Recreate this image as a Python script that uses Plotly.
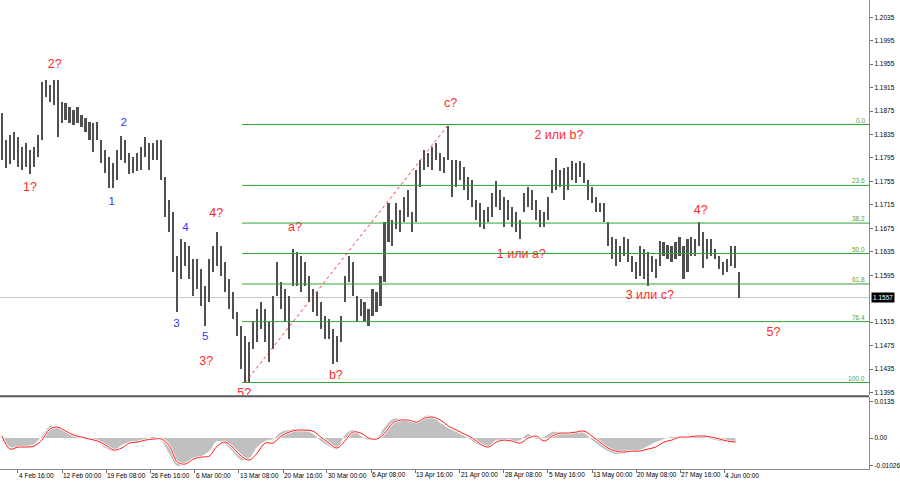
import numpy as np
import plotly.graph_objects as go

# ---------------- data ----------------
HIGHS = [1.1872, 1.1826, 1.1835, 1.1840, 1.1831, 1.1814, 1.1821, 1.1809, 1.1814, 1.1835,
         1.1925, 1.1928, 1.1920, 1.1928, 1.1928, 1.1891, 1.1889, 1.1882, 1.1877, 1.1882,
         1.1869, 1.1864, 1.1857, 1.1855, 1.1857, 1.1826, 1.1809, 1.1797, 1.1787, 1.1809,
         1.1833, 1.1826, 1.1804, 1.1797, 1.1804, 1.1814, 1.1830, 1.1821, 1.1821, 1.1826,
         1.1826, 1.1763, 1.1724, 1.1702, 1.1627, 1.1656, 1.1651, 1.1644, 1.1622, 1.1622,
         1.1605, 1.1576, 1.1622, 1.1644, 1.1668, 1.1644, 1.1617, 1.1588, 1.1566, 1.1532,
         1.1508, 1.1491, 1.1481, 1.1515, 1.1537, 1.1549, 1.1537, 1.1515, 1.1559, 1.1617,
         1.1583, 1.1571, 1.1559, 1.1639, 1.1634, 1.1627, 1.1617, 1.1593, 1.1571, 1.1566,
         1.1549, 1.1525, 1.1520, 1.1503, 1.1491, 1.1525, 1.1593, 1.1627, 1.1617, 1.1559,
         1.1554, 1.1549, 1.1537, 1.1571, 1.1566, 1.1593, 1.1685, 1.1719, 1.1690, 1.1719,
         1.1707, 1.1729, 1.1741, 1.1702, 1.1775, 1.1792, 1.1809, 1.1804, 1.1814, 1.1821,
         1.1804, 1.1797, 1.1850, 1.1792, 1.1792, 1.1789, 1.1780, 1.1763, 1.1758, 1.1724,
         1.1719, 1.1707, 1.1712, 1.1736, 1.1755, 1.1741, 1.1729, 1.1724, 1.1712, 1.1702,
         1.1690, 1.1736, 1.1746, 1.1741, 1.1724, 1.1707, 1.1702, 1.1729, 1.1775, 1.1795,
         1.1775, 1.1778, 1.1780, 1.1789, 1.1787, 1.1789, 1.1787, 1.1758, 1.1746, 1.1729,
         1.1719, 1.1719, 1.1685, 1.1661, 1.1656, 1.1644, 1.1661, 1.1656, 1.1627, 1.1617,
         1.1644, 1.1639, 1.1634, 1.1627, 1.1622, 1.1653, 1.1651, 1.1647, 1.1644, 1.1651,
         1.1661, 1.1644, 1.1656, 1.1661, 1.1656, 1.1685, 1.1668, 1.1656, 1.1656, 1.1639,
         1.1627, 1.1617, 1.1622, 1.1644, 1.1644, 1.1600]

LOWS = [1.1792, 1.1778, 1.1784, 1.1792, 1.1780, 1.1775, 1.1780, 1.1767, 1.1780, 1.1797,
        1.1826, 1.1899, 1.1891, 1.1886, 1.1831, 1.1855, 1.1860, 1.1855, 1.1852, 1.1855,
        1.1847, 1.1840, 1.1826, 1.1806, 1.1826, 1.1787, 1.1770, 1.1744, 1.1744, 1.1758,
        1.1792, 1.1787, 1.1767, 1.1770, 1.1772, 1.1775, 1.1797, 1.1775, 1.1792, 1.1792,
        1.1758, 1.1695, 1.1668, 1.1600, 1.1532, 1.1588, 1.1610, 1.1588, 1.1559, 1.1571,
        1.1542, 1.1508, 1.1549, 1.1600, 1.1610, 1.1593, 1.1566, 1.1537, 1.1520, 1.1491,
        1.1435, 1.1412, 1.1413, 1.1469, 1.1481, 1.1503, 1.1481, 1.1447, 1.1469, 1.1559,
        1.1537, 1.1515, 1.1486, 1.1576, 1.1576, 1.1566, 1.1576, 1.1549, 1.1532, 1.1525,
        1.1503, 1.1486, 1.1486, 1.1443, 1.1447, 1.1481, 1.1549, 1.1583, 1.1559, 1.1515,
        1.1525, 1.1515, 1.1508, 1.1525, 1.1532, 1.1542, 1.1583, 1.1651, 1.1644, 1.1673,
        1.1668, 1.1685, 1.1695, 1.1668, 1.1685, 1.1746, 1.1775, 1.1780, 1.1775, 1.1792,
        1.1772, 1.1770, 1.1792, 1.1729, 1.1746, 1.1758, 1.1741, 1.1724, 1.1712, 1.1690,
        1.1678, 1.1673, 1.1685, 1.1695, 1.1712, 1.1707, 1.1678, 1.1690, 1.1678, 1.1668,
        1.1656, 1.1702, 1.1712, 1.1707, 1.1690, 1.1678, 1.1678, 1.1690, 1.1736, 1.1741,
        1.1746, 1.1724, 1.1741, 1.1758, 1.1753, 1.1763, 1.1753, 1.1724, 1.1719, 1.1702,
        1.1702, 1.1685, 1.1644, 1.1622, 1.1610, 1.1617, 1.1627, 1.1617, 1.1600, 1.1588,
        1.1593, 1.1588, 1.1576, 1.1600, 1.1591, 1.1610, 1.1627, 1.1622, 1.1617, 1.1622,
        1.1627, 1.1588, 1.1600, 1.1627, 1.1627, 1.1644, 1.1608, 1.1622, 1.1627, 1.1622,
        1.1605, 1.1596, 1.1600, 1.1610, 1.1608, 1.1557]

CURRENT_PRICE = 1.1557

# MACD-style oscillator, one value every second bar
OSC_MAIN = [-0.00037, -0.00333, -0.00370, -0.00333, -0.00222, 0.00074, 0.00444, 0.00407, 0.00222, 0.00074,
            0.00037, -0.00037, -0.00148, -0.00370, -0.00481, -0.00259, -0.00148, -0.00111, -0.00037, 0.00037,
            -0.00111, -0.00593, -0.01037, -0.00926, -0.00741, -0.00667, -0.00481, -0.00111, -0.00222, -0.00519,
            -0.00815, -0.00741, -0.00333, -0.00111, -0.00037, 0.00222, 0.00296, 0.00333, 0.00296, 0.00148,
            -0.00111, -0.00296, -0.00407, 0.00111, 0.00296, 0.00074, -0.00074, 0.0, 0.00407, 0.00704,
            0.00704, 0.00630, 0.00630, 0.00815, 0.00815, 0.00556, 0.00370, 0.00222, 0.00074, -0.00111,
            -0.00296, -0.00333, -0.00074, -0.00111, -0.00148, -0.00074, 0.00148, -0.00037, 0.00037, 0.00222,
            0.00222, 0.00222, 0.00259, 0.00185, -0.00074, -0.00296, -0.00481, -0.00593, -0.00556, -0.00481,
            -0.00444, -0.00296, -0.00148, -0.00037, 0.00037, 0.00037, 0.00074, 0.00111, 0.00037, -0.00037,
            -0.00111, -0.00148, -0.00148]

OSC_SIGNAL = [0.00074, -0.00407, -0.00333, -0.00333, -0.00296, -0.00074, 0.00333, 0.00407, 0.00259, 0.00111,
              0.00037, -0.00037, -0.00111, -0.00259, -0.00444, -0.00370, -0.00185, -0.00148, -0.00074, -0.00037,
              -0.00037, -0.00296, -0.00889, -0.00963, -0.00778, -0.00704, -0.00667, -0.00296, -0.00148, -0.00370,
              -0.00667, -0.00815, -0.00556, -0.00185, -0.00185, 0.00074, 0.00222, 0.00296, 0.00296, 0.00259,
              0.00037, -0.00185, -0.00370, -0.00111, 0.00222, 0.00185, 0.0, -0.00037, 0.00185, 0.00556,
              0.00667, 0.00667, 0.00593, 0.00741, 0.00778, 0.00667, 0.00444, 0.00296, 0.00148, 0.0,
              -0.00222, -0.00333, -0.00148, -0.00074, -0.00111, -0.00185, 0.0, 0.00074, -0.00111, 0.00074,
              0.00185, 0.00185, 0.00222, 0.00259, 0.00074, -0.00148, -0.00370, -0.00481, -0.00519, -0.00481,
              -0.00481, -0.00407, -0.00333, -0.00148, -0.00074, 0.00037, 0.00037, 0.00074, 0.00074, 0.00037,
              -0.00037, -0.00111, -0.00148]

PRICE_TICKS = [1.2035, 1.1995, 1.1955, 1.1915, 1.1875, 1.1835, 1.1795, 1.1755, 1.1715, 1.1675,
               1.1635, 1.1595, 1.1515, 1.1475, 1.1435, 1.1395]
OSC_TICKS = [0.0135, 0.0, -0.01026]
OSC_TICK_TEXT = ["0.0135", "0.00", "-0.01026"]

TIME_TICK_BARS = [4, 15.1, 26.1, 37.2, 48.3, 59.4, 70.5, 81.5, 92.6, 103.7,
                  114.8, 125.8, 136.9, 148, 159.1, 170.1, 181.2]
TIME_LABELS = ["4 Feb 16:00", "12 Feb 00:00", "19 Feb 08:00", "26 Feb 16:00", "6 Mar 00:00",
               "13 Mar 08:00", "20 Mar 16:00", "30 Mar 00:00", "6 Apr 08:00", "13 Apr 16:00",
               "21 Apr 00:00", "28 Apr 08:00", "5 May 16:00", "13 May 00:00", "20 May 08:00",
               "27 May 16:00", "4 Jun 00:00"]

FIB_LEVELS = [0.0, 23.6, 38.2, 50.0, 61.8, 76.4, 100.0]
FIB_HIGH = 1.1852
FIB_LOW = 1.1412
FIB_LOW_BAR = 61
FIB_HIGH_BAR = 112

RED_TEXT = ["2?", "1?", "4?", "3?", "5?", "a?", "b?", "c?", "2 или b?", "1 или а?", "3 или с?", "4?", "5?"]
RED_X = [13.25, 7, 53.75, 51.25, 60.75, 73.5, 83.75, 112.5, 139.7, 130.25, 162.5, 175.25, 193.5]
RED_Y = [1.1954, 1.1744, 1.1699, 1.1448, 1.1392, 1.1675, 1.1424, 1.1887, 1.1833, 1.1629, 1.1559, 1.1704, 1.1496]

BLUE_TEXT = ["2", "1", "4", "3", "5"]
BLUE_X = [30.5, 27.5, 46, 43.75, 51]
BLUE_Y = [1.1855, 1.1719, 1.1675, 1.1511, 1.1489]

# ---------------- figure ----------------
W, H = 900, 485
FONT = "Liberation Sans"
XR = [-0.5, 217.5]
XDOM = [0, 872 / W]
MAIN_DOM = [(H - 396) / H, 1.0]
OSC_DOM = [(H - 470) / H, (H - 398) / H]
MAIN_RANGE = [1.13904, 1.20644]
OSC_RANGE = [-0.011481, 0.015185]

bar_idx = np.arange(len(HIGHS))
highs = np.array(HIGHS)
lows = np.array(LOWS)
osc_x = np.arange(0, 2 * len(OSC_MAIN), 2)

fig = go.Figure()

fig.add_trace(go.Bar(x=bar_idx, y=highs - lows, base=lows, width=0.4,
                     marker=dict(color="#505050", line=dict(width=0)),
                     xaxis="x", yaxis="y", hoverinfo="skip"))

fig.add_trace(go.Scatter(x=RED_X, y=RED_Y, text=RED_TEXT, mode="text",
                         textfont=dict(family=FONT, size=12.5, color="#ff2a2a"),
                         cliponaxis=True, xaxis="x", yaxis="y", hoverinfo="skip"))
fig.add_trace(go.Scatter(x=BLUE_X, y=BLUE_Y, text=BLUE_TEXT, mode="text",
                         textfont=dict(family=FONT, size=11.5, color="#3535ff"),
                         cliponaxis=True, xaxis="x", yaxis="y", hoverinfo="skip"))

fig.add_trace(go.Scatter(x=osc_x, y=OSC_MAIN, mode="lines", line=dict(width=0, shape="spline"),
                         fill="tozeroy", fillcolor="#c0c0c0",
                         xaxis="x2", yaxis="y2", hoverinfo="skip"))
fig.add_trace(go.Scatter(x=osc_x, y=OSC_SIGNAL, mode="lines",
                         line=dict(width=2.4, color="#ffffff", shape="spline"),
                         xaxis="x2", yaxis="y2", hoverinfo="skip"))
fig.add_trace(go.Scatter(x=osc_x, y=OSC_SIGNAL, mode="lines",
                         line=dict(width=1, color="#ff1a1a", shape="spline"),
                         xaxis="x2", yaxis="y2", hoverinfo="skip"))

shapes = []
# current price line
shapes.append(dict(type="line", xref="x", yref="y", x0=XR[0], x1=XR[1],
                   y0=CURRENT_PRICE, y1=CURRENT_PRICE, layer="below",
                   line=dict(color="#c8c8c8", width=1)))
annotations = []
fib_span = FIB_HIGH - FIB_LOW
for lvl in FIB_LEVELS:
    p = FIB_HIGH - lvl / 100.0 * fib_span
    shapes.append(dict(type="line", xref="x", yref="y", x0=FIB_LOW_BAR - 0.75, x1=XR[1],
                       y0=p, y1=p, line=dict(color="#34a234", width=1)))
    annotations.append(dict(x=XDOM[1] - 0.002, xref="paper", y=p, yref="y",
                            text=f"{lvl:.1f}", showarrow=False, xanchor="right",
                            yanchor="bottom", yshift=-1,
                            font=dict(family=FONT, size=6.5, color="#5aa03c")))
# dotted trend line of the retracement
shapes.append(dict(type="line", xref="x", yref="y", x0=FIB_LOW_BAR, y0=FIB_LOW,
                   x1=FIB_HIGH_BAR, y1=FIB_HIGH, line=dict(color="#ff3030", width=1, dash="dot")))
# pane separator
sep_y = (H - 397) / H
shapes.append(dict(type="line", xref="paper", yref="paper", x0=0, x1=XDOM[1],
                   y0=sep_y, y1=sep_y, line=dict(color="#5a5a5a", width=2)))

for b, lab in zip(TIME_TICK_BARS, TIME_LABELS):
    annotations.append(dict(x=b, xref="x2", y=(H - 476) / H, yref="paper", text=lab,
                            showarrow=False, xanchor="left", yanchor="middle", xshift=-1,
                            font=dict(family=FONT, size=6.5, color="#000000")))

annotations.append(dict(x=XDOM[1] + 0.002, xref="paper", y=CURRENT_PRICE, yref="y",
                        text=f"{CURRENT_PRICE:.4f}", showarrow=False, xanchor="left",
                        yanchor="middle", bgcolor="#000000", borderpad=1,
                        font=dict(family=FONT, size=6.5, color="#ffffff")))

axis_font = dict(family=FONT, size=6.5, color="#000000")
fig.update_layout(
    width=W, height=H, margin=dict(l=0, r=0, t=0, b=0),
    paper_bgcolor="#ffffff", plot_bgcolor="#ffffff",
    showlegend=False, hovermode=False, bargap=0,
    xaxis=dict(domain=XDOM, range=XR, anchor="y", showticklabels=False, showgrid=False,
               zeroline=False, showline=False, ticks=""),
    yaxis=dict(domain=MAIN_DOM, range=MAIN_RANGE, anchor="x", side="right",
               tickvals=PRICE_TICKS, ticktext=[f"{v:.4f}" for v in PRICE_TICKS],
               ticks="outside", ticklen=3, tickcolor="#707070", tickfont=axis_font,
               showline=True, linecolor="#8c8c8c", linewidth=1,
               showgrid=False, zeroline=False),
    xaxis2=dict(domain=XDOM, range=XR, anchor="y2", matches="x", tickvals=TIME_TICK_BARS,
                showticklabels=False, ticks="outside", ticklen=3, tickcolor="#707070",
                showline=True, linecolor="#8c8c8c", linewidth=1, showgrid=False, zeroline=False),
    yaxis2=dict(domain=OSC_DOM, range=OSC_RANGE, anchor="x2", side="right",
                tickvals=OSC_TICKS, ticktext=OSC_TICK_TEXT, ticks="outside", ticklen=3,
                tickcolor="#707070", tickfont=axis_font, showline=True, linecolor="#8c8c8c",
                linewidth=1, showgrid=False, zeroline=False),
    shapes=shapes, annotations=annotations,
)

fig.write_html("out.html")
